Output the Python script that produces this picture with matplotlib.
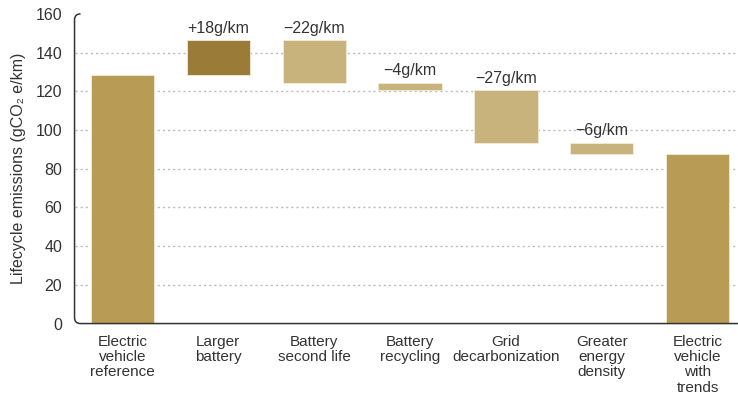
import matplotlib.pyplot as plt
from matplotlib.path import Path
from matplotlib.patches import PathPatch

plt.rcParams['font.family'] = ['Liberation Sans', 'DejaVu Sans']

categories = ["Electric\nvehicle\nreference", "Larger\nbattery", "Battery\nsecond life",
              "Battery\nrecycling", "Grid\ndecarbonization", "Greater\nenergy\ndensity",
              "Electric\nvehicle\nwith\ntrends"]
reference = 128.5
changes = [18, -22, -4, -27, -6]
change_labels = ["+18g/km", "\u221222g/km", "\u22124g/km", "\u221227g/km", "\u22126g/km"]

total_color = "#B89B55"
up_color = "#9A7B37"
down_color = "#C9B37C"
text_color = "#333333"
edge = "#F3ECD8"

fig = plt.figure(figsize=(7.38, 3.97), dpi=100)
ax = fig.add_axes([0.101, 0.185, 0.899, 0.78])

# running totals for the waterfall
bottoms = []
heights = []
level = reference
for d in changes:
    start = level
    level = level + d
    bottoms.append(min(start, level))
    heights.append(abs(d))
final = level

width = 0.66
ax.bar(0, reference, width, color=total_color, edgecolor=edge, linewidth=0.6, zorder=3)
for i, (b, h, d) in enumerate(zip(bottoms, heights, changes), start=1):
    color = up_color if d > 0 else down_color
    ax.bar(i, h, width, bottom=b, color=color, edgecolor=edge, linewidth=0.6, zorder=3)
    ax.text(i, b + h + 2.2, change_labels[i - 1], ha="center", va="bottom",
            fontsize=11.5, color=text_color)
ax.bar(len(categories) - 1, final, width, color=total_color, edgecolor=edge,
       linewidth=0.6, zorder=3)

ax.set_xlim(-0.5, 6.42)
ax.set_ylim(0, 160)
ax.set_yticks(range(0, 161, 20))
ax.set_xticks(range(len(categories)))
ax.set_xticklabels(categories, fontsize=11, color=text_color, linespacing=1.12)
ax.tick_params(axis="y", length=0, labelsize=11.5, colors=text_color, pad=9)
ax.tick_params(axis="x", length=0, pad=8)

for y in range(20, 141, 20):
    ax.axhline(y, color="#BBBBBB", linestyle=(0, (1.5, 2.2)), linewidth=1.0, zorder=1)

for s in ax.spines.values():
    s.set_visible(False)

# axis line with rounded corners, drawn in axes coordinates
rx, ry = 6 / 663.0, 6 / 309.7
verts = [(rx, 1.0), (0, 1.0), (0, 1.0 - ry), (0, ry), (0, 0), (rx, 0), (1.0, 0)]
codes = [Path.MOVETO, Path.CURVE3, Path.CURVE3, Path.LINETO, Path.CURVE3, Path.CURVE3, Path.LINETO]
ax.add_patch(PathPatch(Path(verts, codes), transform=ax.transAxes, fill=False,
                       edgecolor="#333333", linewidth=1.1, clip_on=False, zorder=4))

ax.set_ylabel("Lifecycle emissions (gCO\u2082 e/km)", fontsize=11.5, color=text_color, labelpad=7)

fig.savefig("out.png", dpi=100)
